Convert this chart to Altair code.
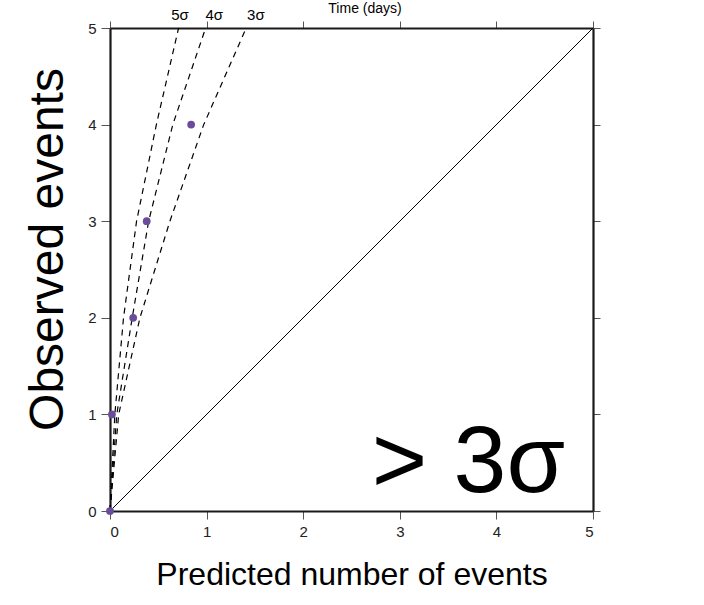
import altair as alt
import pandas as pd

# Observed-count levels at which the significance curves are sampled
observed_levels = [0, 1, 2, 3, 4, 5]
sigma5_pred = [0, 0.05, 0.14, 0.275, 0.48, 0.71]
sigma4_pred = [0, 0.07, 0.23, 0.40, 0.65, 0.99]
sigma3_pred = [0, 0.09, 0.31, 0.62, 0.97, 1.41]

# Measured events
event_pred = [0, 0.02, 0.24, 0.38, 0.84]
event_obs = [0, 1, 2, 3, 4]

# Curve labels along the top edge
sigma_names = ["5σ", "4σ", "3σ"]
sigma_label_x = [0.725, 1.08, 1.51]

axis_ticks = [0, 1, 2, 3, 4, 5]
diag = [0, 5]

FONT = "Liberation Sans"
PURPLE = "#6B4C9A"

curves = pd.DataFrame(
    [
        {"sigma": name, "pred": p, "obs": o, "k": i}
        for name, preds in zip(sigma_names, [sigma5_pred, sigma4_pred, sigma3_pred])
        for i, (p, o) in enumerate(zip(preds, observed_levels))
    ]
)
events = pd.DataFrame({"pred": event_pred, "obs": event_obs})
diag_df = pd.DataFrame({"pred": diag, "obs": diag})
sig_lab = pd.DataFrame({"pred": sigma_label_x, "label": sigma_names})

xs = alt.Scale(domain=[0, 5], nice=False, zero=False)
ys = alt.Scale(domain=[0, 5], nice=False, zero=False)

common_axis = dict(
    values=axis_ticks,
    grid=False,
    domainColor="#1a1a1a",
    domainWidth=2.2,
    tickColor="#555",
    tickWidth=1,
    labelColor="#222",
    labelFont=FONT,
    labelFontSize=15,
    titleFont=FONT,
    titleFontWeight="normal",
    titleColor="#000",
)

x_bottom = alt.Axis(
    orient="bottom",
    tickSize=8,
    labelPadding=5,
    title="Predicted number of events",
    titleFontSize=32,
    titleBaseline="alphabetic",
    titleY=73,
    **common_axis,
)
y_left = alt.Axis(
    orient="left",
    tickSize=9,
    labelPadding=5,
    title="Observed events",
    titleFontSize=48,
    titleAngle=270,
    titleAlign="center",
    titleBaseline="alphabetic",
    titleX=-48,
    titleY=221,
    **common_axis,
)
x_top = alt.Axis(orient="top", tickSize=7, labels=False, title=None, **common_axis)
y_right = alt.Axis(orient="right", tickSize=7, labels=False, title=None, **common_axis)

diagonal = alt.Chart(diag_df).mark_line(color="#000", strokeWidth=1).encode(
    x=alt.X("pred:Q", scale=xs, axis=x_bottom),
    y=alt.Y("obs:Q", scale=ys, axis=y_left),
)

frame = alt.Chart(diag_df).mark_line(opacity=0).encode(
    x=alt.X("pred:Q", scale=xs, axis=x_top),
    y=alt.Y("obs:Q", scale=ys, axis=y_right),
)

sigma_lines = alt.Chart(curves).mark_line(
    color="#000", strokeWidth=1.2, strokeDash=[6, 5]
).encode(
    x=alt.X("pred:Q", scale=xs, axis=None),
    y=alt.Y("obs:Q", scale=ys, axis=None),
    detail="sigma:N",
    order="k:Q",
)

points = alt.Chart(events).mark_circle(size=60, color=PURPLE, opacity=1).encode(
    x=alt.X("pred:Q", scale=xs, axis=None),
    y=alt.Y("obs:Q", scale=ys, axis=None),
)

sigma_text = alt.Chart(sig_lab).mark_text(
    font=FONT, fontSize=15, color="#000", baseline="alphabetic", align="center"
).encode(
    x=alt.X("pred:Q", scale=xs, axis=None),
    y=alt.value(-8),
    text="label:N",
)

time_text = alt.Chart(pd.DataFrame({"pred": [2.64], "t": ["Time (days)"]})).mark_text(
    font=FONT, fontSize=14, color="#000", baseline="alphabetic", align="center"
).encode(
    x=alt.X("pred:Q", scale=xs, axis=None),
    y=alt.value(-15),
    text="t:N",
)

big_text = alt.Chart(
    pd.DataFrame({"pred": [3.71], "obs": [0.197], "t": ["> 3σ"]})
).mark_text(
    font=FONT, fontSize=95, color="#000", baseline="alphabetic", align="center"
).encode(
    x=alt.X("pred:Q", scale=xs, axis=None),
    y=alt.Y("obs:Q", scale=ys, axis=None),
    text="t:N",
)

chart = (
    alt.layer(frame, diagonal, sigma_lines, points, sigma_text, time_text, big_text)
    .resolve_axis(x="independent", y="independent")
    .properties(
        width=483,
        height=483,
        padding={"left": 110, "top": 28, "right": 111, "bottom": 94},
        autosize="none",
        background="white",
    )
    .configure_view(stroke=None)
)

chart.save("out.html", embed_options={"renderer": "svg", "actions": False})
